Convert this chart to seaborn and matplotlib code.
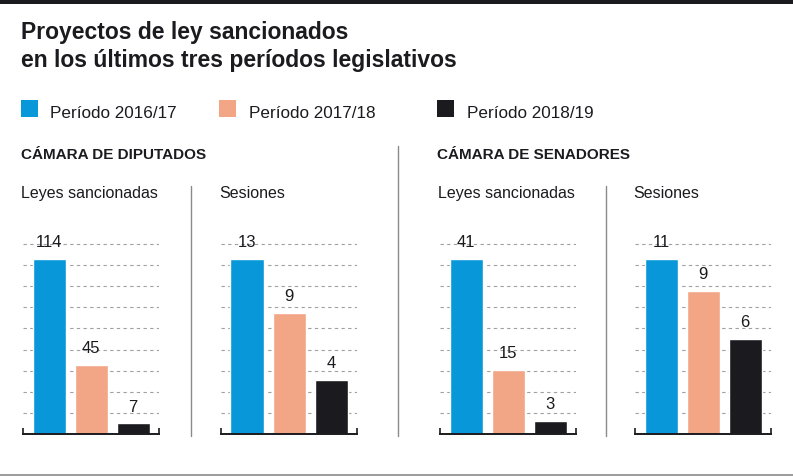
import numpy as np
import pandas as pd
import seaborn as sns
import matplotlib.pyplot as plt
from matplotlib.lines import Line2D
from matplotlib.patches import Rectangle

# data
periods = ["Período 2016/17", "Período 2017/18", "Período 2018/19"]
colors = ["#0897d8", "#f2a686", "#1b1a1e"]
leyes_diputados = [114, 45, 7]
sesiones_diputados = [13, 9, 4]
leyes_senadores = [41, 15, 3]
sesiones_senadores = [11, 9, 6]

panel_titles = ["Leyes sancionadas", "Sesiones", "Leyes sancionadas", "Sesiones"]
panel_values = [leyes_diputados, sesiones_diputados, leyes_senadores, sesiones_senadores]

sns.set_theme(style="white")
plt.rcParams['font.family'] = ['Liberation Sans', 'DejaVu Sans']

W, H = 793, 477
fig = plt.figure(figsize=(W / 100, H / 100), dpi=100)

def fx(px):
    return px / W

def fy(py):
    return 1 - py / H

# top band and bottom rule
fig.add_artist(Rectangle((0, fy(5)), 1, 5 / H, transform=fig.transFigure,
                         color="#1b1a1e", lw=0))
fig.add_artist(Line2D([0, 1], [fy(476), fy(476)], transform=fig.transFigure,
                      color="#8a8a8a", lw=1.2))

# title
fig.text(fx(21), fy(33), "Proyectos de ley sancionados", fontsize=16.5,
         fontweight="bold", color="#1b1a1e", va="center")
fig.text(fx(21), fy(60), "en los últimos tres períodos legislativos", fontsize=16.5,
         fontweight="bold", color="#1b1a1e", va="center")

# legend
for (sx, tx), lab, col in zip([(21, 50), (219, 249), (437, 467)], periods, colors):
    fig.add_artist(Rectangle((fx(sx), fy(118)), 17 / W, 17 / H,
                             transform=fig.transFigure, color=col, lw=0))
    fig.text(fx(tx), fy(113), lab, fontsize=12.3, color="#1b1a1e", va="center")

# section headers
fig.text(fx(21), fy(155), "CÁMARA DE DIPUTADOS", fontsize=11, fontweight="bold",
         color="#1b1a1e", va="center")
fig.text(fx(437), fy(155), "CÁMARA DE SENADORES", fontsize=11, fontweight="bold",
         color="#1b1a1e", va="center")

# separators
for x, y0 in [(191, 187), (398, 147), (606, 187)]:
    fig.add_artist(Line2D([fx(x), fx(x)], [fy(y0), fy(437)], transform=fig.transFigure,
                          color="#8a8a8a", lw=1))

# panels
axis_left = [23, 221, 440, 635]
base_y, top_y = 435, 220
bar_px, step_px = 33, 42
for left, title, vals in zip(axis_left, panel_titles, panel_values):
    fig.text(fx(left - 2), fy(194), title, fontsize=11.5, color="#1b1a1e", va="center")

    ax = fig.add_axes([fx(left), fy(base_y), 136 / W, (base_y - top_y) / H])
    df = pd.DataFrame({"period": periods, "value": vals})
    sns.barplot(data=df, x="period", y="value", hue="period", palette=colors,
                width=bar_px / step_px, legend=False, ax=ax, saturation=1)

    vmax = max(vals)
    ax.set_ylim(0, vmax * (base_y - top_y) / 175)
    half = (136 / step_px) / 2
    ax.set_xlim(1 - half, 1 + half)
    ax.set_yticks(np.linspace(0, vmax * 190 / 175, 10))
    ax.yaxis.grid(True, linestyle=(0, (3, 3)), color="#a0a0a0", lw=0.8)
    ax.set_axisbelow(True)
    ax.set_xticks([1 - half, 1 + half])
    ax.tick_params(axis="x", direction="in", length=4, width=1.2, color="#1b1a1e",
                   labelbottom=False, bottom=True)
    ax.tick_params(axis="y", left=False, labelleft=False)
    for s in ["top", "left", "right"]:
        ax.spines[s].set_visible(False)
    ax.spines["bottom"].set_color("#1b1a1e")
    ax.spines["bottom"].set_linewidth(1.4)
    ax.set_xlabel("")
    ax.set_ylabel("")
    ax.patch.set_alpha(0)
    for c in ax.containers:
        ax.bar_label(c, fontsize=12, color="#1b1a1e", padding=7)

fig.savefig("out.png", dpi=100)
